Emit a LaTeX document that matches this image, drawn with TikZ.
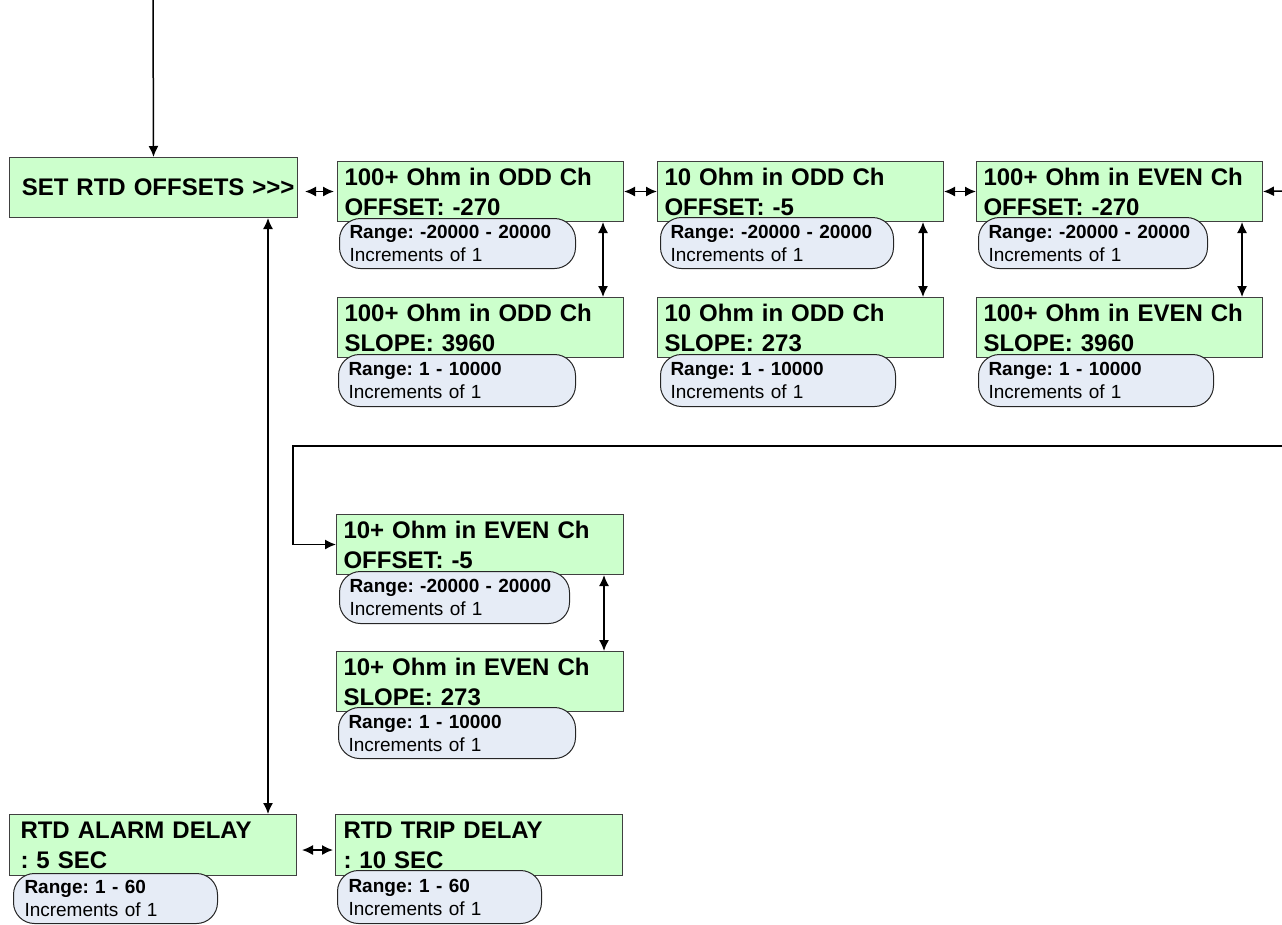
\documentclass[tikz,border=0pt]{standalone}
\usepackage{fontspec}
\setmainfont{Liberation Sans}
\usetikzlibrary{arrows.meta}
\frenchspacing
\definecolor{gfill}{RGB}{204,255,204}
\definecolor{gline}{RGB}{64,64,64}
\definecolor{rfill}{RGB}{230,236,246}
\tikzset{
  gbox/.style={draw=gline, fill=gfill, line width=1pt, anchor=north west,
    inner xsep=7pt, inner ysep=0pt, align=left,
    font=\fontsize{24}{30}\selectfont\bfseries\frenchspacing},
  rbox/.style 2 args={draw=black!85, fill=rfill, line width=1pt, rounded corners=21pt,
    anchor=north west, inner xsep=10pt, inner ysep=0pt, align=left,
    minimum width=#1, text width=#2,
    font=\fontsize{19}{23}\selectfont\frenchspacing},
  conn/.style={line width=1.5pt, black},
  tip/.tip={Latex[length=11pt,width=10pt]},
}
\begin{document}
\begin{tikzpicture}[x=1pt,y=-1pt]
\useasboundingbox (0,0) rectangle (1282,924);

% green boxes
\node[gbox, inner xsep=3pt, align=right, minimum width=288pt, text width=282pt, minimum height=60pt] (set) at (9,157) {SET RTD OFFSETS >\kern0pt>\kern0pt>};
\node[gbox, minimum width=286pt, text width=272pt, minimum height=60pt] (a1) at (337,161) {100+ Ohm in ODD Ch\\OFFSET: -270};
\node[gbox, minimum width=286pt, text width=272pt, minimum height=60pt] (a2) at (337,297) {100+ Ohm in ODD Ch\\SLOPE: 3960};
\node[gbox, minimum width=286pt, text width=272pt, minimum height=60pt] (b1) at (657,161) {10 Ohm in ODD Ch\\OFFSET: -5};
\node[gbox, minimum width=286pt, text width=272pt, minimum height=60pt] (b2) at (657,297) {10 Ohm in ODD Ch\\SLOPE: 273};
\node[gbox, minimum width=286pt, text width=272pt, minimum height=60pt] (c1) at (976,161) {100+ Ohm in EVEN Ch\\OFFSET: -270};
\node[gbox, minimum width=286pt, text width=272pt, minimum height=60pt] (c2) at (976,297) {100+ Ohm in EVEN Ch\\SLOPE: 3960};
\node[gbox, minimum width=287pt, text width=273pt, minimum height=60pt] (d1) at (336,514) {10+ Ohm in EVEN Ch\\OFFSET: -5};
\node[gbox, minimum width=287pt, text width=273pt, minimum height=60pt] (d2) at (336,651) {10+ Ohm in EVEN Ch\\SLOPE: 273};
\node[gbox, inner xsep=11pt, minimum width=287pt, text width=265pt, minimum height=61pt] (e1) at (9,814) {RTD ALARM DELAY\\: 5 SEC};
\node[gbox, inner xsep=8pt, minimum width=287pt, text width=271pt, minimum height=61pt] (e2) at (335,814) {RTD TRIP DELAY\\: 10 SEC};

% range boxes
\node[rbox={236pt}{216pt}, minimum height=50pt] (a1r) at (339,218) {\textbf{Range: -20000 - 20000}\\Increments of 1};
\node[rbox={237pt}{217pt}, minimum height=52pt] (a2r) at (338,354) {\textbf{Range: 1 - 10000}\\Increments of 1};
\node[rbox={233pt}{213pt}, minimum height=51pt] (b1r) at (660,217) {\textbf{Range: -20000 - 20000}\\Increments of 1};
\node[rbox={235pt}{215pt}, minimum height=52pt] (b2r) at (660,354) {\textbf{Range: 1 - 10000}\\Increments of 1};
\node[rbox={229pt}{209pt}, minimum height=51pt] (c1r) at (978,217) {\textbf{Range: -20000 - 20000}\\Increments of 1};
\node[rbox={235pt}{215pt}, minimum height=52pt] (c2r) at (978,354) {\textbf{Range: 1 - 10000}\\Increments of 1};
\node[rbox={230pt}{210pt}, minimum height=52pt] (d1r) at (339,571) {\textbf{Range: -20000 - 20000}\\Increments of 1};
\node[rbox={237pt}{217pt}, minimum height=51pt] (d2r) at (338,707) {\textbf{Range: 1 - 10000}\\Increments of 1};
\node[rbox={204pt}{182pt}, inner xsep=11pt, minimum height=50pt] (e1r) at (13,873) {\textbf{Range: 1 - 60}\\Increments of 1};
\node[rbox={204pt}{182pt}, inner xsep=11pt, minimum height=53pt] (e2r) at (337,870) {\textbf{Range: 1 - 60}\\Increments of 1};

% free ends
\coordinate (topin) at (153,0);
\coordinate (rin) at (1282,191);
\coordinate (lin) at (1282,446);
\coordinate (lcorner) at (293,446);

% connectors
\draw[conn, -tip] (topin) -- (set.north);
\draw[conn, tip-tip, shorten <=7pt, shorten >=3pt] (set.east |- a1.west) -- (a1.west);
\draw[conn, tip-tip] (a1.east) -- (b1.west);
\draw[conn, tip-tip] (b1.east) -- (c1.west);
\draw[conn, -tip] (rin) -- (c1.east);
\draw[conn, tip-tip] ([xshift=-21pt]a1.south east) -- ([xshift=-21pt]a2.north east);
\draw[conn, tip-tip] ([xshift=-21pt]b1.south east) -- ([xshift=-21pt]b2.north east);
\draw[conn, tip-tip] ([xshift=-21pt]c1.south east) -- ([xshift=-21pt]c2.north east);
\draw[conn, tip-tip] ([xshift=-20pt]d1.south east) -- ([xshift=-20pt]d2.north east);
\draw[conn, -tip] (lin) -- (lcorner) |- (d1.west);
\draw[conn, tip-tip] ([xshift=-30pt]set.south east) -- ([xshift=-29pt]e1.north east);
\draw[conn, tip-tip] ([xshift=5pt,yshift=-5pt]e1.east) -- ([xshift=-2pt,yshift=-5pt]e2.west);
\end{tikzpicture}
\end{document}
